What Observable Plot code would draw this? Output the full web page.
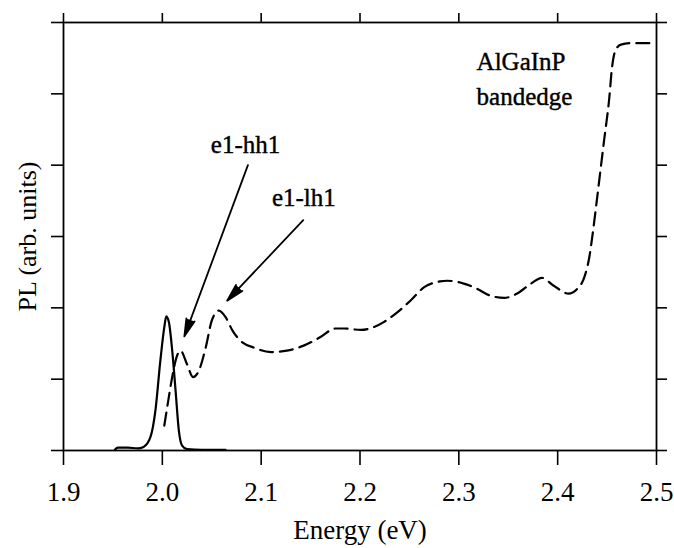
<!DOCTYPE html>
<html><head><meta charset="utf-8">
<script src="https://cdn.jsdelivr.net/npm/d3@7"></script>
<script src="https://cdn.jsdelivr.net/npm/@observablehq/plot@0.6"></script>
<style>body{margin:0;background:#fff}</style>
</head><body><div id="chart"></div>
<script>
// Solid curve (PL)
const solidEnergy = [1.952,1.955,1.965,1.975,1.981,1.988,1.993,1.998,2.002,2.004,2.0066,2.010,2.0134,2.0167,2.020,2.025,2.040,2.064];
const solidPL     = [0.01,0.04,0.04,0.03,0.05,0.19,0.56,1.26,1.73,1.88,1.80,1.40,0.84,0.28,0.07,0.02,0.01,0.01];
// Dashed curve
const dashedEnergy = [2.002,2.006,2.010,2.0134,2.0184,2.025,2.031,2.037,2.044,2.050,2.057,2.064,2.071,2.079,2.093,2.110,2.126,2.143,2.160,2.175,2.184,2.201,2.214,2.224,2.238,2.251,2.265,2.281,2.288,2.305,2.318,2.332,2.346,2.359,2.373,2.384,2.396,2.411,2.420,2.427,2.432,2.436,2.440,2.447,2.452,2.455,2.4585,2.464,2.474,2.499];
const dashedPL     = [0.35,0.70,1.03,1.26,1.40,1.21,1.03,1.12,1.45,1.82,1.96,1.87,1.68,1.54,1.44,1.38,1.40,1.47,1.59,1.71,1.71,1.69,1.73,1.80,1.94,2.10,2.29,2.37,2.38,2.34,2.27,2.17,2.14,2.20,2.34,2.42,2.31,2.20,2.27,2.43,2.71,3.10,3.55,4.35,4.91,5.37,5.61,5.69,5.71,5.71];
// Ticks
const xTicks = [1.9,2.0,2.1,2.2,2.3,2.4,2.5];
const yTicks = [0,1,2,3,4,5,6];
// Annotations
const noteText   = ["e1-hh1","e1-lh1"];
const noteEnergy = [2.0842,2.1432];
const notePL     = [4.276,3.54];
const edgeText   = ["AlGaInP","bandedge"];
const edgeEnergy = [2.318,2.318];
const edgePL     = [5.44,4.96];
// Arrows
const arrowFromE  = [2.0866,2.1426];
const arrowFromPL = [4.0,3.23];
const arrowToE    = [2.0223,2.0656];
const arrowToPL   = [1.6,2.10];

const serif = "'Liberation Serif', 'DejaVu Serif', serif";

const chart = Plot.plot({
  width: 674,
  height: 548,
  marginLeft: 63,
  marginRight: 18,
  marginTop: 22,
  marginBottom: 98,
  style: {fontFamily: serif, background: "white", color: "black"},
  x: {domain: [1.9, 2.5]},
  y: {domain: [0, 6]},
  marks: [
    Plot.frame({stroke: "black", strokeWidth: 1.8}),
    Plot.axisX(xTicks, {anchor: "bottom", tickSize: 15, tickPadding: 16, strokeWidth: 1.6,
      fontSize: 27, tickFormat: d3.format(".1f"),
      label: "Energy (eV)", labelAnchor: "center", labelArrow: "none", labelOffset: 88}),
    Plot.axisX(xTicks, {anchor: "top", tickSize: 10, strokeWidth: 1.6, tickFormat: () => "", label: null}),
    Plot.axisY(yTicks, {anchor: "left", tickSize: 12, strokeWidth: 1.6, tickFormat: () => "",
      fontSize: 26, label: "PL (arb. units)", labelAnchor: "center", labelArrow: "none", labelOffset: 46}),
    Plot.axisY(yTicks, {anchor: "right", tickSize: 10, strokeWidth: 1.6, tickFormat: () => "", label: null}),
    Plot.line(solidEnergy, {x: solidEnergy, y: solidPL, curve: "monotone-x", stroke: "black", strokeWidth: 2.2}),
    Plot.line(dashedEnergy, {x: dashedEnergy, y: dashedPL, curve: "monotone-x", stroke: "black", strokeWidth: 2.2, strokeDasharray: "13,7"}),
    Plot.arrow(arrowToE, {x1: arrowFromE, y1: arrowFromPL, x2: arrowToE, y2: arrowToPL,
      stroke: "black", fill: "black", strokeWidth: 1.8, headLength: 15, headAngle: 28,
      render(index, scales, values, dimensions, context, next) {
        const g = next(index, scales, values, dimensions, context);
        g.setAttribute("fill", "black");
        g.querySelectorAll("path").forEach(p => { p.setAttribute("fill", "black"); p.setAttribute("stroke-linejoin", "miter"); });
        return g;
      }}),
    Plot.text(noteText, {x: noteEnergy, y: notePL, text: noteText, fontSize: 25, fontFamily: serif,
      fill: "black", stroke: "black", strokeWidth: 0.4}),
    Plot.text(edgeText, {x: edgeEnergy, y: edgePL, text: edgeText, fontSize: 25, fontFamily: serif,
      fill: "black", stroke: "black", strokeWidth: 0.4, textAnchor: "start"})
  ]
});
document.getElementById("chart").append(chart);
</script>
</body></html>
